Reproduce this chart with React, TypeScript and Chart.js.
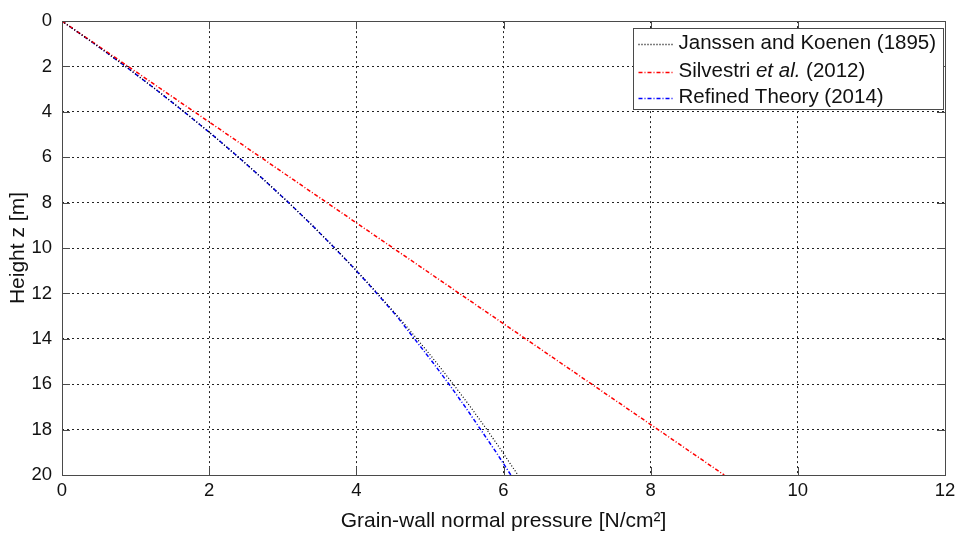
import React, { useEffect, useRef } from "react";
import { Chart, registerables } from "chart.js";

Chart.register(...registerables);

const depthZ = [0, 1, 2, 3, 4, 5, 6, 7, 8, 9, 10, 11, 12, 13, 14, 15, 16, 17, 18, 19, 20];
const janssenKoenen = [0, 0.441, 0.865, 1.272, 1.663, 2.039, 2.4, 2.747, 3.081, 3.401, 3.709, 4.005, 4.289, 4.562, 4.824, 5.076, 5.318, 5.551, 5.774, 5.989, 6.195];
const silvestri = [0, 0.45, 0.9, 1.35, 1.8, 2.25, 2.7, 3.15, 3.6, 4.05, 4.5, 4.95, 5.4, 5.85, 6.3, 6.75, 7.2, 7.65, 8.1, 8.55, 9.0];
const refinedTheory = [0, 0.441, 0.865, 1.27, 1.66, 2.04, 2.4, 2.747, 3.08, 3.4, 3.705, 4.0, 4.28, 4.55, 4.79, 5.03, 5.26, 5.48, 5.69, 5.9, 6.1];

const xTicks = [0, 2, 4, 6, 8, 10, 12];
const yTicks = [0, 2, 4, 6, 8, 10, 12, 14, 16, 18, 20];

const FONT = "'Liberation Sans', Arial, sans-serif";
const TEXT = "#111111";

const legendEntries = [
  { parts: [{ t: "Janssen and Koenen (1895)", i: false }], color: "#000000", dash: [1, 2] },
  { parts: [{ t: "Silvestri ", i: false }, { t: "et al.", i: true }, { t: " (2012)", i: false }], color: "#ff0000", dash: [4, 2, 1, 2] },
  { parts: [{ t: "Refined Theory (2014)", i: false }], color: "#0000ff", dash: [4, 2, 1, 2] },
];

const framePlugin = {
  id: "frameAndLegend",
  afterDatasetsDraw(chart: any) {
    const { ctx, chartArea, scales } = chart;
    const { left, right, top, bottom } = chartArea;
    ctx.save();
    ctx.strokeStyle = "#4a4a4a";
    ctx.lineWidth = 1;
    ctx.setLineDash([]);
    ctx.strokeRect(Math.round(left) + 0.5, Math.round(top) + 0.5, Math.round(right - left), Math.round(bottom - top));
    const tl = 8;
    ctx.beginPath();
    xTicks.forEach((v) => {
      const px = Math.round(scales.x.getPixelForValue(v)) + 0.5;
      ctx.moveTo(px, bottom);
      ctx.lineTo(px, bottom - tl);
      ctx.moveTo(px, top);
      ctx.lineTo(px, top + tl);
    });
    yTicks.forEach((v) => {
      const py = Math.round(scales.y.getPixelForValue(v)) + 0.5;
      ctx.moveTo(left, py);
      ctx.lineTo(left + tl, py);
      ctx.moveTo(right, py);
      ctx.lineTo(right - tl, py);
    });
    ctx.stroke();

    const lx = Math.round(right) - 311.5;
    const ly = Math.round(top) + 7.5;
    const lw = 310;
    const lh = 81;
    ctx.fillStyle = "#ffffff";
    ctx.fillRect(lx, ly, lw, lh);
    ctx.strokeStyle = "#4a4a4a";
    ctx.strokeRect(lx, ly, lw, lh);
    const rowY = [15, 43, 69];
    legendEntries.forEach((e, k) => {
      const y = ly + rowY[k];
      ctx.strokeStyle = e.color;
      ctx.lineWidth = 1.3;
      ctx.setLineDash(e.dash);
      ctx.beginPath();
      ctx.moveTo(lx + 5, Math.round(y) + 0.5);
      ctx.lineTo(lx + 39, Math.round(y) + 0.5);
      ctx.stroke();
      ctx.setLineDash([]);
      let tx = lx + 45;
      ctx.fillStyle = TEXT;
      ctx.textBaseline = "middle";
      ctx.textAlign = "left";
      e.parts.forEach((p) => {
        ctx.font = (p.i ? "italic " : "") + "20.5px " + FONT;
        ctx.fillText(p.t, tx, y);
        tx += ctx.measureText(p.t).width;
      });
    });
    ctx.restore();
  },
};

export default function App() {
  const ref = useRef<HTMLCanvasElement>(null);
  useEffect(() => {
    document.body.style.margin = "0";
    const mk = (vals: number[]) => depthZ.map((z, i) => ({ x: vals[i], y: z }));
    const chart = new Chart(ref.current as HTMLCanvasElement, {
      type: "line",
      data: {
        datasets: [
          { label: "Janssen and Koenen (1895)", data: mk(janssenKoenen), borderColor: "#000000", borderWidth: 1.2, borderDash: [1, 2], pointRadius: 0, tension: 0, fill: false },
          { label: "Silvestri et al. (2012)", data: mk(silvestri), borderColor: "#ff0000", borderWidth: 1.5, borderDash: [4, 2, 1, 2], pointRadius: 0, tension: 0, fill: false },
          { label: "Refined Theory (2014)", data: mk(refinedTheory), borderColor: "#0000ff", borderWidth: 1.5, borderDash: [4, 2, 1, 2], pointRadius: 0, tension: 0, fill: false },
        ],
      },
      options: {
        responsive: false,
        animation: false,
        devicePixelRatio: 1,
        layout: { padding: { top: 15, right: 18, left: 0, bottom: 0 } },
        plugins: { legend: { display: false }, tooltip: { enabled: false } },
        scales: {
          x: {
            type: "linear",
            min: 0,
            max: 12,
            afterFit: (s: any) => { s.height = 59; },
            afterBuildTicks: (s: any) => { s.ticks = xTicks.map((v) => ({ value: v })); },
            ticks: { color: TEXT, font: { family: FONT, size: 18.5 }, padding: 5, maxRotation: 0 },
            grid: { color: "#222", lineWidth: 1, drawTicks: false, tickLength: 0 },
            border: { display: false, dash: [2, 3] },
            title: { display: true, text: "Grain-wall normal pressure [N/cm²]", color: TEXT, font: { family: FONT, size: 21 }, padding: { top: 0, bottom: 0 } },
          },
          y: {
            type: "linear",
            min: 0,
            max: 20,
            reverse: true,
            afterFit: (s: any) => { s.width = 62; },
            afterBuildTicks: (s: any) => { s.ticks = yTicks.map((v) => ({ value: v })); },
            ticks: { color: TEXT, font: { family: FONT, size: 18.5 }, padding: 10 },
            grid: { color: "#222", lineWidth: 1, drawTicks: false, tickLength: 0 },
            border: { display: false, dash: [2, 3] },
            title: { display: true, text: "Height z [m]", color: TEXT, font: { family: FONT, size: 21 }, padding: { top: 6, bottom: 0 } },
          },
        },
      } as any,
      plugins: [framePlugin],
    });
    return () => chart.destroy();
  }, []);
  return (
    <div style={{ width: 963, height: 534, background: "#fff" }}>
      <canvas ref={ref} width={963} height={534} style={{ width: 963, height: 534, display: "block" }} />
    </div>
  );
}
